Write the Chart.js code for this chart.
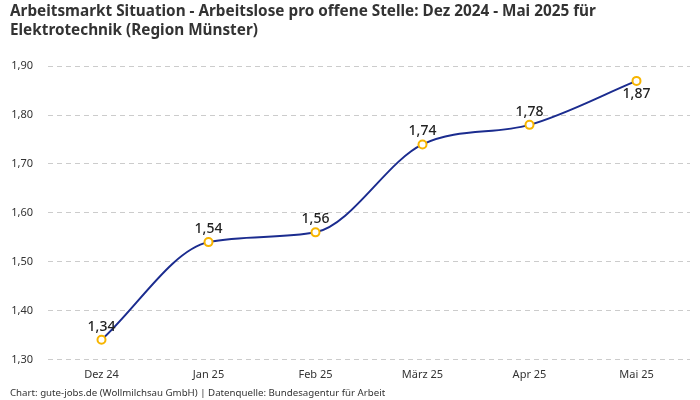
<!DOCTYPE html>
<html>
<head>
<meta charset="utf-8">
<script src="https://cdn.jsdelivr.net/npm/chart.js@4"></script>
<style>
  html, body { margin: 0; padding: 0; background: #fff; }
  #wrap { width: 700px; height: 400px; }
</style>
</head>
<body>
<div id="wrap"><canvas id="myChart"></canvas></div>
<script>
var months = ["Dez 24", "Jan 25", "Feb 25", "März 25", "Apr 25", "Mai 25"];
var ratio = [1.34, 1.54, 1.56, 1.74, 1.78, 1.87];
var yTicks = [1.30, 1.40, 1.50, 1.60, 1.70, 1.80, 1.90];

var fontName = "'Noto Sans', sans-serif";

function deNum(v) {
    return v.toFixed(2).replace('.', ',');
}

// draws the value above each point (last one below)
var valueLabels = {
    id: 'valueLabels',
    afterDatasetsDraw: function (chart) {
        var ctx = chart.ctx;
        var meta = chart.getDatasetMeta(0);
        ctx.save();
        ctx.font = "500 14px " + fontName;
        ctx.fillStyle = '#222';
        ctx.textAlign = 'center';
        meta.data.forEach(function (pt, i) {
            var last = i == meta.data.length - 1;
            if (last) {
                ctx.textBaseline = 'top';
                ctx.fillText(deNum(ratio[i]), pt.x, pt.y + 6);
            } else {
                ctx.textBaseline = 'bottom';
                ctx.fillText(deNum(ratio[i]), pt.x, pt.y - 6);
            }
        });
        ctx.restore();
    }
};

var ctx = document.getElementById('myChart').getContext('2d');
var chart = new Chart(ctx, {
    type: 'line',
    data: {
        labels: months,
        datasets: [{
            data: ratio,
            borderColor: '#1b2c8f',
            borderWidth: 2,
            cubicInterpolationMode: 'monotone',
            pointRadius: 4,
            pointBorderWidth: 2,
            pointBackgroundColor: '#fff',
            pointBorderColor: '#f7b500',
            fill: false
        }]
    },
    options: {
        responsive: true,
        maintainAspectRatio: false,
        animation: false,
        layout: { padding: { left: 10, right: 10, top: 0, bottom: 0 } },
        plugins: {
            legend: { display: false },
            tooltip: { enabled: false },
            title: {
                display: true,
                align: 'start',
                text: ["Arbeitsmarkt Situation - Arbeitslose pro offene Stelle: Dez 2024 - Mai 2025 für",
                       "Elektrotechnik (Region Münster)"],
                color: '#333',
                font: { family: fontName, size: 15.3, weight: 'bold', lineHeight: 1.25 },
                padding: { top: 2, bottom: 26 }
            },
            subtitle: {
                display: true,
                position: 'bottom',
                align: 'start',
                text: "Chart: gute-jobs.de (Wollmilchsau GmbH) | Datenquelle: Bundesagentur für Arbeit",
                color: '#333',
                font: { family: fontName, size: 9.7 },
                padding: { top: 5, bottom: 1 }
            }
        },
        scales: {
            x: {
                offset: true,
                grid: { display: false, drawTicks: false },
                border: { display: false },
                ticks: { color: '#333', font: { family: fontName, size: 11 }, padding: 9 },
                afterFit: function (axis) { axis.height = 23; }
            },
            y: {
                min: yTicks[0],
                max: yTicks[yTicks.length - 1],
                afterBuildTicks: function (axis) {
                    axis.ticks = yTicks.map(function (v) { return { value: v }; });
                },
                afterFit: function (axis) { axis.width = 38; },
                grid: { color: '#cccccc', drawTicks: false },
                border: { display: false, dash: [5, 4] },
                ticks: {
                    color: '#333',
                    font: { family: fontName, size: 11 },
                    padding: 15,
                    callback: function (v) { return deNum(v); }
                }
            }
        }
    },
    plugins: [valueLabels]
});
</script>
</body>
</html>
